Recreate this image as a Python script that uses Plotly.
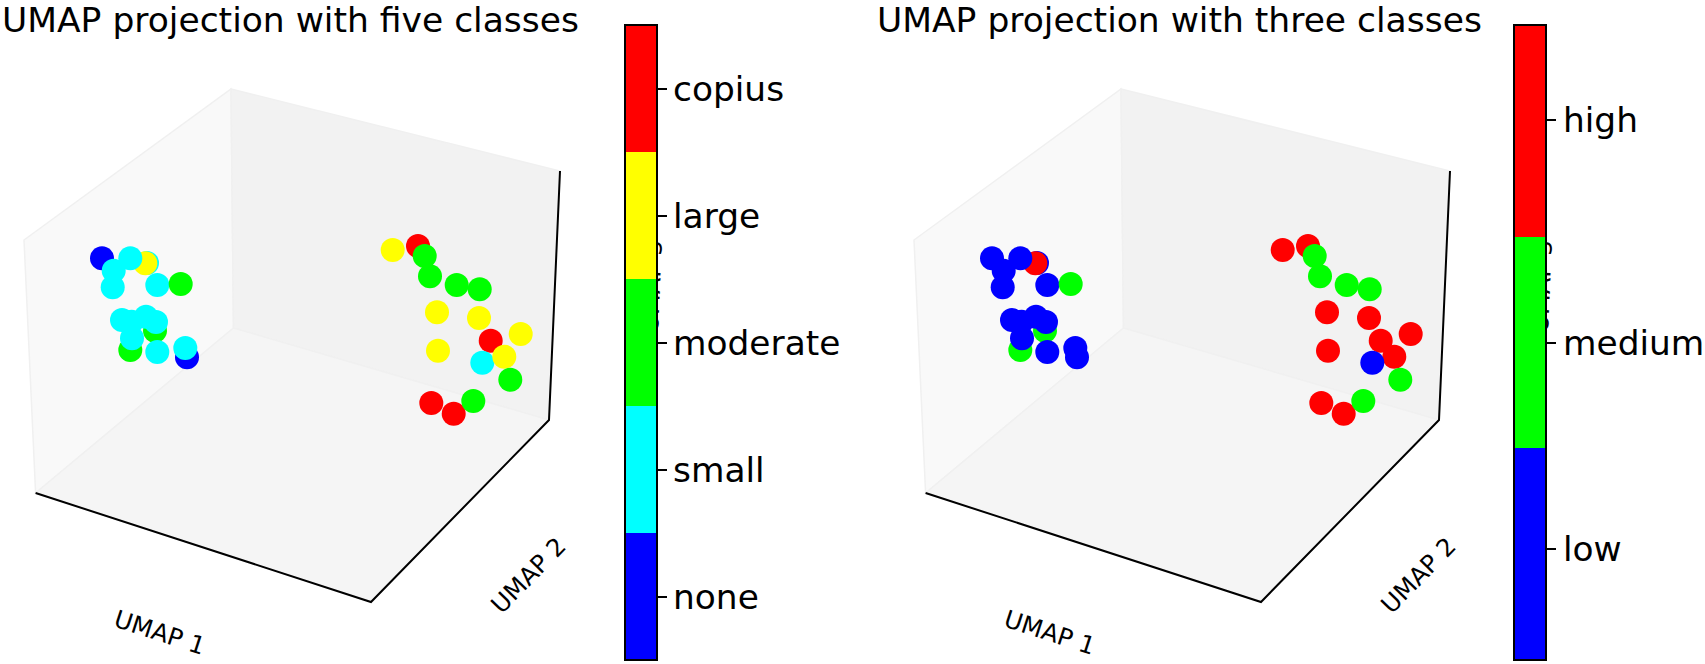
import plotly.graph_objects as go

# Projected positions of the samples (same samples, both panels)
five_x = [147, 145.3, 102, 113.7, 112.7, 130.3, 157.3, 180.7, 155, 130.3, 187, 122, 131.7, 146, 156, 132, 157.3, 185.3,
          418, 424.7, 392.7, 430, 456.7, 479.7, 437, 479, 520.7, 490.7, 482.3, 504.3, 438, 510.3, 431.3, 453.7, 473.3]
five_y = [263, 263.3, 258.3, 270.7, 287.3, 258.3, 285, 284, 330.7, 350, 357.3, 320, 321.7, 316.7, 322, 338.3, 352, 348,
          246, 256, 250, 276.3, 285, 289.3, 312.3, 318, 334, 340.7, 362.7, 356.7, 350.7, 379.7, 403, 413.7, 401]
five_class = [1, 3, 0, 1, 1, 1, 1, 2, 2, 2, 0, 1, 1, 1, 1, 1, 1, 1,
              4, 2, 3, 2, 2, 2, 3, 3, 3, 4, 1, 3, 3, 2, 4, 4, 2]

three_x = [147, 145.3, 102, 113.7, 112.7, 130.3, 157.3, 180.7, 155, 130.3, 187, 122, 131.7, 146, 156, 132, 157.3, 185.3,
           418, 424.7, 392.7, 430, 456.7, 479.7, 437, 479, 520.7, 490.7, 504.3, 482.3, 438, 510.3, 431.3, 453.7, 473.3]
three_y = [263, 263.3, 258.3, 270.7, 287.3, 258.3, 285, 284, 330.7, 350, 357.3, 320, 321.7, 316.7, 322, 338.3, 352, 348,
           246, 256, 250, 276.3, 285, 289.3, 312.3, 318, 334, 340.7, 356.7, 362.7, 350.7, 379.7, 403, 413.7, 401]
three_class = [0, 2, 0, 0, 0, 0, 0, 1, 1, 1, 0, 0, 0, 0, 0, 0, 0, 0,
               2, 1, 2, 1, 1, 1, 2, 2, 2, 2, 2, 0, 2, 1, 2, 2, 1]

five_labels = ["none", "small", "moderate", "large", "copius"]
five_ticks = [0, 1, 2, 3, 4]
five_colors = ["#0000ff", "#00ffff", "#00ff00", "#ffff00", "#ff0000"]
three_labels = ["low", "medium", "high"]
three_ticks = [0.025, 1.0, 2.05]
three_colors = ["#0000ff", "#00ff00", "#ff0000"]
titles = ["UMAP projection with five classes", "UMAP projection with three classes"]

FONT = "DejaVu Sans"
W, H = 1705, 664
PANEL_W = 815
OFFSET = 890
BAR_TOP, BAR_BOTTOM = 25, 660
BLACK_FONT = dict(family=FONT, color="black")


def stepped(colors):
    n = len(colors)
    scale = []
    for i, c in enumerate(colors):
        scale += [[i / n, c], [(i + 1) / n, c]]
    return scale


def scatter(x, y, cls, colors, ticks, xa, ya, bar_left):
    n = len(colors)
    return go.Scatter(
        x=x, y=y, xaxis=xa, yaxis=ya, mode="markers", showlegend=False, hoverinfo="skip",
        marker=dict(
            size=24, color=cls, cmin=-0.5, cmax=n - 0.5, colorscale=stepped(colors), line=dict(width=0),
            colorbar=dict(
                x=bar_left / W, xanchor="left", xpad=0, ypad=0,
                y=1 - BAR_TOP / H, yanchor="top", lenmode="pixels", len=BAR_BOTTOM - BAR_TOP,
                thicknessmode="pixels", thickness=32,
                outlinewidth=2, outlinecolor="black",
                tickmode="array", tickvals=ticks, ticktext=[" "] * n,
                ticks="outside", ticklen=9, tickwidth=2, tickcolor="black",
                tickfont=dict(family=FONT, size=10, color="black"),
            ),
        ),
    )


fig = go.Figure()
fig.add_trace(scatter(five_x, five_y, five_class, five_colors, five_ticks, "x", "y", 625))
fig.add_trace(scatter(three_x, three_y, three_class, three_colors, three_ticks, "x2", "y2", 625 + OFFSET - 1))

shapes, annotations = [], []
panels = [("x", "y", five_labels, five_ticks), ("x2", "y2", three_labels, three_ticks)]
title_lefts = [0, 875.3]
for i, (xr, yr, labels, ticks) in enumerate(panels):
    panes = [
        ("M24,240 L231,89 L233.5,328 L35.6,493 Z", "#f9f9f9"),
        ("M231,89 L560,171 L549,420 L233.5,328 Z", "#f2f2f2"),
        ("M35.6,493 L233.5,328 L549,420 L371,602 Z", "#f5f5f5"),
    ]
    for path, col in panes:
        shapes.append(dict(type="path", path=path, xref=xr, yref=yr, layer="below",
                           fillcolor=col, line=dict(color="#f0f0f0", width=1.5)))
    shapes.append(dict(type="path", path="M35.6,493 L371,602 L549,420 L560,171", xref=xr, yref=yr,
                       layer="below", line=dict(color="black", width=2)))
    # z-axis label sits behind the colour bar; only the feet of its letters peek out
    shapes.append(dict(type="rect", x0=640, x1=660, y0=276, y1=296, xref=xr, yref=yr, layer="below",
                       line=dict(width=0), fillcolor="rgba(0,0,0,0)",
                       label=dict(text="UMAP 3", textangle=-87.5, textposition="middle center",
                                  font=dict(size=24, **BLACK_FONT))))
    annotations += [
        dict(text=titles[i], x=title_lefts[i] / W, y=1 - 0.5 / H, xref="paper", yref="paper", xanchor="left",
             yanchor="top", height=36.5, valign="bottom", showarrow=False, font=dict(size=34.5, **BLACK_FONT)),
        dict(text="UMAP 1", x=160, y=632, xref=xr, yref=yr, textangle=18, showarrow=False,
             font=dict(size=24.5, **BLACK_FONT)),
        dict(text="UMAP 2", x=528, y=575, xref=xr, yref=yr, textangle=-45.6, showarrow=False,
             font=dict(size=24.5, **BLACK_FONT)),
    ]
    n = len(labels)
    for lab, t in zip(labels, ticks):
        tick_y = BAR_BOTTOM - (t + 0.5) * (BAR_BOTTOM - BAR_TOP) / n
        annotations.append(dict(text=lab, x=671, y=tick_y + 0.2, xref=xr, yref=yr,
                                xanchor="left", yanchor="middle", showarrow=False,
                                font=dict(size=34.4, **BLACK_FONT)))

hidden = dict(visible=False, fixedrange=True)
fig.update_layout(
    width=W, height=H, margin=dict(l=0, r=0, t=0, b=0, pad=0, autoexpand=False),
    paper_bgcolor="white", plot_bgcolor="rgba(0,0,0,0)",
    xaxis=dict(domain=[0, PANEL_W / W], range=[0, PANEL_W], **hidden),
    yaxis=dict(domain=[0, 1], range=[H, 0], **hidden),
    xaxis2=dict(domain=[OFFSET / W, (OFFSET + PANEL_W) / W], range=[0, PANEL_W], **hidden),
    yaxis2=dict(domain=[0, 1], range=[H, 0], **hidden),
    shapes=shapes, annotations=annotations,
)
fig.write_html("out.html", config=dict(displayModeBar=False),
               post_script="document.body.style.margin='0';document.body.style.overflow='hidden';")
